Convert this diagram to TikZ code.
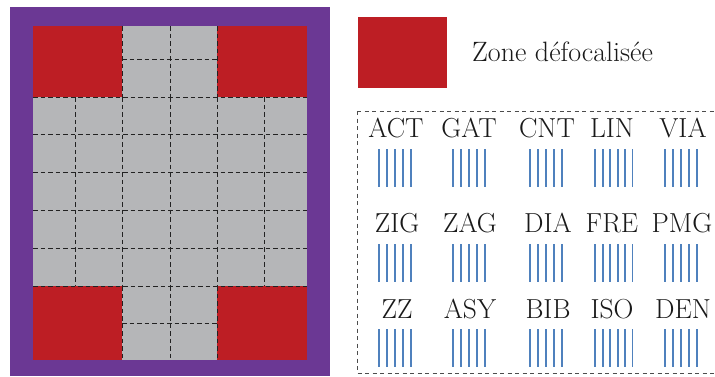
\documentclass[tikz,border=0pt]{standalone}
\usepackage{fontspec}
\definecolor{cpurple}{HTML}{6B3894}
\definecolor{cred}{HTML}{BD1E24}
\definecolor{cgray}{HTML}{B5B6B8}
\definecolor{cbar}{HTML}{4F81BD}
\definecolor{cdash}{HTML}{222222}
\tikzset{
  gridline/.style={draw=cdash, line width=0.9pt, dash pattern=on 4.5pt off 3pt},
  lbl/.style={font=\fontsize{27.5}{30}\selectfont, text=black!90, inner sep=0pt, anchor=base},
  bar/.style={draw=cbar, line width=2pt},
}
\newcommand{\barset}[2]{% #1 = first x, #2 = top y
  \foreach \i in {0,...,4} {\draw[bar] ({#1+7.9*\i},#2) -- ({#1+7.9*\i},#2+38);}
}
\newcommand{\barsix}[2]{%
  \foreach \i in {0,...,4} {\draw[bar] ({#1+7.6*\i},#2) -- ({#1+7.6*\i},#2+38);}
  \draw[cbar, line width=1.2pt] ({#1+37.4},#2) -- ({#1+37.4},#2+38);
}
\begin{document}
\begin{tikzpicture}[x=1pt,y=-1pt]
\useasboundingbox (0,0) rectangle (715,376);
% outer frame
\fill[cpurple] (10,7) rectangle (330,376);
\fill[cgray] (33,26) rectangle (307,360);
% red corners
\fill[cred] (33,26) rectangle (122,97);
\fill[cred] (217,26) rectangle (307,97);
\fill[cred] (33,286) rectangle (122,360);
\fill[cred] (217,286) rectangle (307,360);
% middle grid
\foreach \y in {97,134,172,210,248,286} {\draw[gridline] (33,\y) -- (307,\y);}
\foreach \x in {75,122,170,217,264} {\draw[gridline] (\x,97) -- (\x,286);}
% top and bottom strips
\foreach \x in {122,170,217} {\draw[gridline] (\x,26) -- (\x,97); \draw[gridline] (\x,286) -- (\x,360);}
\draw[gridline] (122,59) -- (217,59);
\draw[gridline] (122,323) -- (217,323);
% legend
\fill[cred] (358,17) rectangle (447,88);
\node[lbl, anchor=base west, font=\fontsize{28}{30}\selectfont] (zone) at (472,61) {Zone défocalisée};
% dashed box
\draw[draw=black!70, line width=0.9pt, dash pattern=on 4pt off 3.5pt] (357,111) -- (357,373) -- (720,373);
\draw[draw=black!70, line width=0.9pt, dash pattern=on 4pt off 3.5pt] (357,111) -- (720,111);
% labels
\node[lbl] (act) at (396,137) {ACT};
\node[lbl] (gat) at (469,137) {GAT};
\node[lbl] (cnt) at (547,137) {CNT};
\node[lbl] (lin) at (612,137) {LIN};
\node[lbl] (via) at (683,137) {VIA};
\node[lbl] (zig) at (397,232) {ZIG};
\node[lbl] (zag) at (470,232) {ZAG};
\node[lbl] (dia) at (548,232) {DIA};
\node[lbl] (fre) at (612,232) {FRE};
\node[lbl] (pmg) at (682,232) {PMG};
\node[lbl] (zz) at (397,318) {ZZ};
\node[lbl] (asy) at (470,318) {ASY};
\node[lbl] (bib) at (548,318) {BIB};
\node[lbl] (iso) at (612,318) {ISO};
\node[lbl] (den) at (683,318) {DEN};
% bars
\foreach \t in {149,244,329} {
  \barset{379.3}{\t}
  \barset{453.3}{\t}
  \barset{530.3}{\t}
  \barsix{595}{\t}
  \barset{665.3}{\t}
}
\end{tikzpicture}
\end{document}
